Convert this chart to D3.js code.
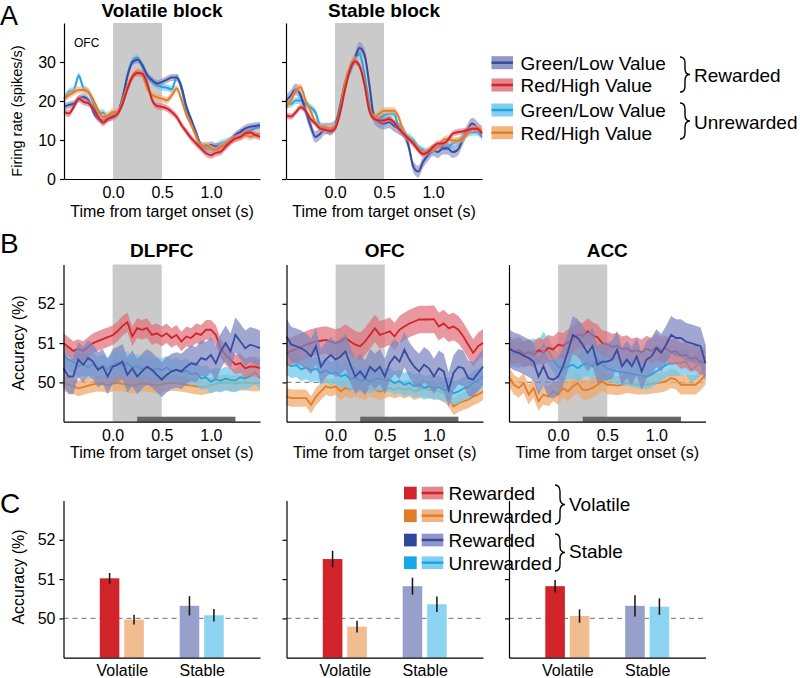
<!DOCTYPE html>
<html><head><meta charset="utf-8">
<script src="https://cdn.jsdelivr.net/npm/d3@7"></script>
<style>
body{margin:0;background:#fff;}
svg{display:block;}
</style></head><body>
<svg id="chart" width="800" height="678"></svg>
<script>
// ---------------- DATA ----------------
const times = [-0.5,-0.45,-0.4,-0.35,-0.3,-0.25,-0.2,-0.15,-0.1,-0.05,0,0.05,0.1,0.15,0.2,0.25,0.3,0.35,0.4,0.45,0.5,0.55,0.6,0.65,0.7,0.75,0.8,0.85,0.9,0.95,1.0,1.05,1.1,1.15,1.2,1.25,1.3,1.35,1.4,1.45,1.5];
const timeTicks = [0, 0.5, 1.0];

// Panel A: firing rate (spikes/s), OFC
const volGreenRew   = [18.5,19.0,19.3,20.6,21.0,20.2,17.2,15.5,15.1,15.5,16.4,17.2,21.0,26.6,30.0,30.6,29.2,26.6,25.3,24.5,24.9,25.5,26.0,26.0,23.6,18.5,15.1,11.7,8.7,8.3,8.7,8.3,8.3,8.7,10.0,11.3,12.1,13.0,13.4,13.6,13.8];
const volRedRew     = [17.2,16.8,18.5,20.6,19.8,19.4,18.1,15.9,14.4,15.5,15.9,16.8,19.4,23.2,26.2,27.2,27.0,24.5,20.2,18.7,18.5,18.1,17.2,15.9,13.8,12.1,10.4,9.1,7.8,6.6,6.1,6.7,7.0,8.3,9.5,10.4,10.8,11.7,11.9,11.3,10.8];
const volGreenUnrew = [20.5,22.3,22.8,26.5,23.2,22.3,19.4,16.8,17.0,15.5,16.4,17.2,21.0,27.0,30.4,31.1,28.7,26.2,24.9,24.0,23.6,23.4,23.0,26.0,22.8,17.6,14.7,11.7,8.3,7.8,7.4,8.3,9.1,9.5,10.0,10.8,11.7,12.1,12.5,13.0,13.4];
const volRedUnrew   = [20.6,21.5,22.3,22.8,22.8,22.3,20.2,17.6,15.9,16.4,17.2,17.2,20.2,24.0,26.6,27.5,26.6,23.2,21.5,21.0,20.6,20.2,21.5,23.2,20.2,16.4,13.8,10.8,8.3,8.7,7.8,7.4,8.3,9.1,10.0,10.4,10.8,11.3,10.8,11.3,11.7];
const stbGreenRew   = [20.1,21.4,23.0,21.4,17.5,13.7,10.8,11.6,12.9,12.9,13.7,18.4,24.3,27.7,30.7,33.6,32.0,24.3,15.8,14.6,14.2,14.6,13.7,12.9,12.0,8.6,3.1,1.9,4.4,6.1,7.4,6.9,7.8,7.8,6.9,7.4,9.9,12.5,14.2,13.3,12.0];
const stbRedRew     = [16.3,16.0,17.1,18.4,17.5,15.4,14.2,12.9,12.6,12.3,12.9,16.7,22.6,27.7,30.1,29.0,24.3,17.5,15.4,15.0,15.0,15.4,14.6,12.9,11.6,10.3,9.1,7.4,6.4,6.9,8.2,9.1,9.1,9.9,11.6,12.0,12.2,12.5,12.9,12.9,11.6];
const stbGreenUnrew = [19.2,19.2,20.1,20.1,19.2,18.4,17.1,13.7,13.3,12.0,13.3,17.5,23.5,28.6,31.1,32.0,26.9,19.2,16.3,15.8,16.3,16.7,16.7,13.3,11.6,10.8,9.9,8.2,7.4,6.9,7.4,8.2,8.2,8.2,9.1,9.5,10.8,11.6,12.0,12.0,10.8];
const stbRedUnrew   = [18.4,20.1,22.6,23.5,20.1,17.5,14.6,13.3,13.3,12.9,13.3,17.5,24.3,28.6,30.7,29.0,25.2,18.4,15.8,16.7,17.5,17.5,17.5,15.8,12.0,10.3,9.1,7.8,6.5,7.4,7.8,8.2,9.9,10.3,9.9,9.9,10.3,11.6,12.9,12.9,12.5];
// half-width of shaded band: [greenRew, redRew, greenUnrew, redUnrew]
const semVol = [0.9, 0.9, 0.9, 0.9];
const semStb = [1.5, 0.8, 0.9, 0.9];
const firingTicks = [0, 10, 20, 30];

// Panel B: decoding accuracy (%)
const dlpfcVolRew   = [51.0,50.9,50.8,50.85,50.8,50.9,51.0,51.05,51.1,51.15,51.2,51.3,51.44,51.53,51.17,51.38,51.34,51.38,51.21,51.25,51.17,51.25,51.13,51.21,51.04,51.17,51.13,51.25,51.21,51.34,51.34,51.21,50.87,50.7,50.58,50.45,50.49,50.36,50.4,50.4,50.36];
const dlpfcVolUnrew = [49.97,49.95,49.9,49.85,49.88,49.92,49.95,49.97,49.96,49.93,49.97,49.99,49.96,49.94,49.92,49.95,49.97,49.96,49.94,49.92,49.95,49.97,49.99,49.98,49.96,49.94,49.92,49.9,49.88,49.9,49.93,49.96,49.98,50.0,49.98,49.97,49.99,50.0,49.98,49.97,49.99];
const dlpfcStbRew   = [50.36,50.15,50.15,50.58,50.45,50.62,50.53,50.32,50.4,50.15,50.4,50.45,50.53,50.19,50.36,50.15,50.28,50.4,50.32,50.19,50.07,50.19,50.28,50.32,50.28,50.4,50.49,50.45,50.62,50.58,50.7,50.49,50.79,51.0,50.79,51.21,51.04,50.87,50.96,50.92,50.87];
const dlpfcStbUnrew = [50.7,50.58,50.52,50.41,50.47,50.38,50.46,50.35,50.42,50.33,50.45,50.5,50.44,50.49,50.38,50.42,50.33,50.39,50.3,50.36,50.31,50.38,50.29,50.34,50.26,50.3,50.21,50.24,50.1,50.13,50.02,50.08,50.04,50.1,50.06,50.05,50.13,50.1,50.16,50.26,50.11];
const ofcVolRew     = [50.75,50.8,50.85,50.9,50.96,51.0,51.04,51.06,51.08,51.04,51.0,51.04,51.13,51.04,50.96,50.92,51.04,51.21,51.38,51.21,51.25,51.3,51.17,51.34,51.42,51.5,51.55,51.6,51.6,51.6,51.61,51.42,51.5,51.38,51.42,51.34,51.17,50.96,50.75,50.92,51.0];
const ofcVolUnrew   = [49.64,49.6,49.6,49.6,49.6,49.43,49.64,49.77,49.9,49.86,49.9,49.77,49.86,49.81,49.86,49.81,49.77,49.86,49.81,49.77,49.81,49.86,49.81,49.86,49.81,49.86,49.77,49.81,49.86,49.81,49.81,49.77,49.73,49.6,49.39,49.47,49.52,49.56,49.64,49.69,49.77];
const ofcStbRew     = [51.17,50.96,50.92,50.87,50.79,50.66,50.92,50.4,50.58,50.7,50.58,50.66,50.79,50.45,50.15,50.28,50.11,50.4,50.28,50.4,50.15,50.49,50.66,50.53,50.83,50.58,50.4,50.28,50.45,50.36,50.15,50.36,50.28,49.81,50.24,50.4,50.36,50.11,50.07,50.24,50.4];
const ofcStbUnrew   = [50.49,50.41,50.44,50.33,50.38,50.3,50.35,50.24,50.31,50.22,50.26,50.15,50.2,50.08,50.12,50.04,50.09,50.02,50.08,50.1,50.05,50.07,49.98,50.03,49.94,49.99,49.9,49.95,49.86,49.9,49.85,49.88,49.8,49.83,49.72,49.77,49.84,49.88,49.99,50.05,50.15];
const accVolRew     = [50.85,50.78,50.83,50.72,50.77,50.7,50.82,50.76,50.88,50.84,50.96,50.93,51.02,51.1,51.22,51.18,51.3,51.2,51.15,51.0,50.97,50.9,50.94,50.84,50.87,50.78,50.82,50.76,50.86,50.8,50.9,50.83,50.86,50.77,50.79,50.68,50.7,50.6,50.63,50.52,50.49];
const accVolUnrew   = [50.15,49.94,49.86,49.98,49.69,49.86,49.52,49.69,49.64,49.77,49.69,49.86,49.77,49.9,49.98,49.81,49.81,49.86,49.94,50.03,49.94,49.94,49.92,49.94,49.98,49.97,49.94,49.94,49.94,49.97,49.98,50.0,50.03,50.11,50.07,49.94,49.94,49.94,49.94,50.05,50.19];
const accStbRew     = [50.87,50.79,50.75,50.68,50.62,50.53,50.15,50.41,50.11,50.07,50.15,50.41,50.79,51.21,51.13,50.96,50.75,50.92,50.45,50.53,50.53,50.58,50.83,50.41,50.58,50.41,50.66,50.28,50.58,50.66,50.87,50.75,50.96,51.21,51.13,51.13,51.04,51.0,50.96,50.92,50.49];
const accStbUnrew   = [50.75,50.72,50.7,50.72,50.75,50.79,50.75,50.96,50.79,50.58,50.4,50.36,50.4,50.45,50.36,50.45,50.49,50.4,50.58,50.45,50.36,50.32,50.28,50.26,50.24,50.22,50.19,50.17,50.15,50.2,50.28,50.36,50.45,50.49,50.49,50.5,50.53,50.32,50.4,50.49,50.66];
// band half-widths: [volRew, volUnrew, stbRew, stbUnrew]
const semDlpfc = [0.25, 0.2, 0.45, 0.3];
const semOfc   = [0.35, 0.22, 0.45, 0.3];
const semAcc   = [0.33, 0.25, 0.48, 0.33];
const accTicks = [50, 51, 52];
const sigWindow = [0.25, 1.25];

// Panel C: mean accuracy (%) [volRew, volUnrew, stbRew, stbUnrew]
const blockCats = ["Volatile", "Stable"];
const dlpfcBars = [51.02, 49.97, 50.32, 50.08];
const dlpfcErr  = [0.135, 0.125, 0.245, 0.16];
const ofcBars   = [51.51, 49.79, 50.82, 50.36];
const ofcErr    = [0.21, 0.15, 0.215, 0.195];
const accBars   = [50.82, 50.06, 50.32, 50.30];
const accErr    = [0.16, 0.17, 0.27, 0.21];

const regionNames = ["DLPFC", "OFC", "ACC"];

// ---------------- STYLE ----------------
const FONT = "'Liberation Sans', Arial, Helvetica, sans-serif";
const pal = {
  blue:   {line:"#3A4B9E", band:"#7C86C0", solid:"#2F479A", bar:"#979FCB"},
  red:    {line:"#D3242B", band:"#E0707A", solid:"#D1232A", bar:"#D1232A"},
  lblue:  {line:"#1EA7E1", band:"#6AC7EE", solid:"#16A8E4", bar:"#8DD4F3"},
  orange: {line:"#E07E2A", band:"#F0A86A", solid:"#E07B28", bar:"#F0BC90"}
};
const GRAY = "#cacaca";

const svg = d3.select("#chart").attr("font-family", FONT);

function yAxis(x0, y, ticks, labels, fs) {
  const ax = d3.axisLeft(y).tickValues(ticks).tickSize(4).tickSizeOuter(0).tickPadding(4)
    .tickFormat(labels ? d3.format("d") : "");
  const a = svg.append("g").attr("transform", `translate(${x0},0)`).call(ax);
  a.attr("font-size", fs).attr("font-family", FONT);
  a.selectAll("path,line").attr("stroke", "#000").attr("stroke-width", 1.2);
  a.selectAll("text").attr("fill", "#000");
}
function xAxisTime(x, y0, fs) {
  const ax = d3.axisBottom(x).tickValues(timeTicks).tickFormat(d3.format(".1f")).tickSize(0).tickSizeOuter(0).tickPadding(8);
  const a = svg.append("g").attr("transform", `translate(0,${y0})`).call(ax);
  a.attr("font-size", fs).attr("font-family", FONT);
  a.selectAll("path").attr("stroke", "#000").attr("stroke-width", 1.2);
  a.selectAll("text").attr("fill", "#000");
}
function trace(x, y, vals, sem, key, curve, lw, op) {
  const pts = times.map((t, i) => ({t, v: vals[i]}));
  svg.append("path").datum(pts)
    .attr("d", d3.area().x(d => x(d.t)).y0(d => y(d.v - sem)).y1(d => y(d.v + sem)).curve(curve))
    .attr("fill", pal[key].band).attr("fill-opacity", op);
  svg.append("path").datum(pts)
    .attr("d", d3.line().x(d => x(d.t)).y(d => y(d.v)).curve(curve))
    .attr("fill", "none").attr("stroke", pal[key].line).attr("stroke-width", lw);
}
function text(x, y, s, fs, opt = {}) {
  const t = svg.append("text").attr("x", x).attr("y", y).text(s)
    .attr("font-size", fs).attr("fill", "#000")
    .attr("text-anchor", opt.anchor || "start");
  if (opt.bold) t.attr("font-weight", "bold");
  if (opt.rot) t.attr("transform", `rotate(-90,${x},${y})`);
  return t;
}
function brace(x, y1, y2, w) {
  const ym = (y1 + y2) / 2, h = ym - y1, m = x + w / 2;
  const p = `M${x},${y1} Q${m},${y1} ${m},${y1 + h * 0.35} L${m},${ym - h * 0.35} Q${m},${ym} ${x + w},${ym} ` +
            `Q${m},${ym} ${m},${ym + h * 0.35} L${m},${y2 - h * 0.35} Q${m},${y2} ${x},${y2}`;
  svg.append("path").attr("d", p).attr("fill", "none").attr("stroke", "#000").attr("stroke-width", 1.4);
}

// ---------------- PANEL A ----------------
const yA = d3.scaleLinear().domain([0, 40]).range([179, 23]);
const panelsA = [
  {x0: 64, title: "Volatile block", data: [volGreenRew, volRedRew, volGreenUnrew, volRedUnrew], sem: semVol, labels: true},
  {x0: 286, title: "Stable block", data: [stbGreenRew, stbRedRew, stbGreenUnrew, stbRedUnrew], sem: semStb, labels: false}
];
const keysA = ["blue", "red", "lblue", "orange"];
const drawOrderA = [2, 0, 3, 1];
panelsA.forEach(p => {
  const x = d3.scaleLinear().domain([-0.5, 1.5]).range([p.x0, p.x0 + 196]);
  svg.append("rect").attr("x", x(0)).attr("y", yA(40)).attr("width", x(0.5) - x(0)).attr("height", yA(0) - yA(40)).attr("fill", GRAY);
  drawOrderA.forEach(i => trace(x, yA, p.data[i], p.sem[i], keysA[i], d3.curveMonotoneX, 2, 0.6));
  yAxis(p.x0, yA, firingTicks, p.labels, 16);
  xAxisTime(x, yA(0), 16);
  text(x(0.5), 16.5, p.title, 19, {anchor: "middle", bold: true});
  text(x(0.5), 216.5, "Time from target onset (s)", 16, {anchor: "middle"});
});
text(74, 47, "OFC", 12);
text(22, 111, "Firing rate (spikes/s)", 14.5, {anchor: "middle", rot: true});
text(0, 25, "A", 27);

// legend A
const legA = [
  {key: "blue", label: "Green/Low Value", y: 62.7},
  {key: "red", label: "Red/High Value", y: 85},
  {key: "lblue", label: "Green/Low Value", y: 110},
  {key: "orange", label: "Red/High Value", y: 132.7}
];
legA.forEach(d => {
  svg.append("rect").attr("x", 491.5).attr("y", d.y - 6.5).attr("width", 21.5).attr("height", 13)
    .attr("fill", pal[d.key].band).attr("fill-opacity", 0.85);
  svg.append("line").attr("x1", 491.5).attr("x2", 513).attr("y1", d.y).attr("y2", d.y)
    .attr("stroke", pal[d.key].line).attr("stroke-width", 2.5);
  text(520.5, d.y + 7, d.label, 19);
});
brace(680, 57, 92, 10);
brace(680, 103, 139, 10);
text(694, 82, "Rewarded", 19);
text(694, 129, "Unrewarded", 19);

// ---------------- PANEL B ----------------
const colX = [63.5, 286.5, 509];
const W = 196.5;
const yB = d3.scaleLinear().domain([49, 53]).range([421.7, 264.5]);
const panelsB = [
  {data: [dlpfcVolRew, dlpfcVolUnrew, dlpfcStbRew, dlpfcStbUnrew], sem: semDlpfc},
  {data: [ofcVolRew, ofcVolUnrew, ofcStbRew, ofcStbUnrew], sem: semOfc},
  {data: [accVolRew, accVolUnrew, accStbRew, accStbUnrew], sem: semAcc}
];
const keysB = ["red", "orange", "blue", "lblue"];
const drawOrderB = [1, 3, 0, 2];
panelsB.forEach((p, k) => {
  const x0 = colX[k];
  const x = d3.scaleLinear().domain([-0.5, 1.5]).range([x0, x0 + W]);
  svg.append("rect").attr("x", x(0)).attr("y", yB(53)).attr("width", x(0.5) - x(0)).attr("height", yB(49) - yB(53)).attr("fill", GRAY);
  svg.append("line").attr("x1", x0).attr("x2", x0 + W).attr("y1", yB(50)).attr("y2", yB(50))
    .attr("stroke", "#8c8c8c").attr("stroke-width", 1.3).attr("stroke-dasharray", "5,4");
  drawOrderB.forEach(i => trace(x, yB, p.data[i], p.sem[i], keysB[i], d3.curveLinear, 1.8, 0.72));
  svg.append("rect").attr("x", x(sigWindow[0])).attr("y", yB(49) - 5).attr("width", x(sigWindow[1]) - x(sigWindow[0])).attr("height", 5).attr("fill", "#676767");
  yAxis(x0, yB, accTicks, k === 0, 16);
  xAxisTime(x, yB(49), 16);
  text(x0 + W / 2, 257, regionNames[k], 19, {anchor: "middle", bold: true});
  text(x0 + W / 2, 457.5, "Time from target onset (s)", 16, {anchor: "middle"});
});
text(23.5, 343, "Accuracy (%)", 16, {anchor: "middle", rot: true});
text(0, 253, "B", 28);

// ---------------- PANEL C ----------------
const yC = d3.scaleLinear().domain([49, 53]).range([657.7, 500.5]);
const barSets = [[dlpfcBars, dlpfcErr], [ofcBars, ofcErr], [accBars, accErr]];
const barKeys = ["red", "orange", "blue", "lblue"];
barSets.forEach((bs, k) => {
  const x0 = colX[k];
  const xc = d3.scalePoint().domain(blockCats).range([x0, x0 + W]).padding(0.73);
  const xi = d3.scaleBand().domain(["Rewarded", "Unrewarded"]).range([-22, 22]).paddingInner(0.2);
  svg.append("line").attr("x1", x0).attr("x2", x0 + W).attr("y1", yC(50)).attr("y2", yC(50))
    .attr("stroke", "#8c8c8c").attr("stroke-width", 1.3).attr("stroke-dasharray", "5,4");
  const rows = [];
  blockCats.forEach((c, ci) => ["Rewarded", "Unrewarded"].forEach((r, ri) => {
    const idx = ci * 2 + ri;
    rows.push({cx: xc(c) + xi(r), v: bs[0][idx], e: bs[1][idx], key: barKeys[idx]});
  }));
  svg.selectAll(null).data(rows).enter().append("rect")
    .attr("x", d => d.cx).attr("width", xi.bandwidth())
    .attr("y", d => yC(d.v)).attr("height", d => yC(49) - yC(d.v))
    .attr("fill", d => pal[d.key].bar);
  svg.selectAll(null).data(rows).enter().append("line")
    .attr("x1", d => d.cx + xi.bandwidth() / 2).attr("x2", d => d.cx + xi.bandwidth() / 2)
    .attr("y1", d => yC(d.v - d.e)).attr("y2", d => yC(d.v + d.e))
    .attr("stroke", "#111").attr("stroke-width", 1.5);
  yAxis(x0, yC, accTicks, k === 0, 16);
  const ax = d3.axisBottom(xc).tickSize(0).tickSizeOuter(0).tickPadding(7);
  const a = svg.append("g").attr("transform", `translate(0,${yC(49)})`).call(ax);
  a.attr("font-size", 16).attr("font-family", FONT);
  a.selectAll("path").attr("stroke", "#000").attr("stroke-width", 1.2);
  a.selectAll("text").attr("fill", "#000");
});
text(23.5, 577, "Accuracy (%)", 16, {anchor: "middle", rot: true});
text(0, 513, "C", 28);

// legend C
const legC = [
  {key: "red", label: "Rewarded", y: 493},
  {key: "orange", label: "Unrewarded", y: 515.7},
  {key: "blue", label: "Rewarded", y: 540},
  {key: "lblue", label: "Unrewarded", y: 562.7}
];
legC.forEach(d => {
  svg.append("rect").attr("x", 404).attr("y", d.y - 6.3).attr("width", 12.7).attr("height", 12.7).attr("fill", pal[d.key].solid);
  svg.append("rect").attr("x", 421.7).attr("y", d.y - 6.3).attr("width", 21.6).attr("height", 12.7)
    .attr("fill", pal[d.key].band).attr("fill-opacity", 0.85);
  svg.append("line").attr("x1", 421.7).attr("x2", 443.3).attr("y1", d.y).attr("y2", d.y)
    .attr("stroke", pal[d.key].line).attr("stroke-width", 2.5);
  text(448.5, d.y + 7, d.label, 19);
});
brace(555, 485, 524, 10);
brace(555, 534, 571, 10);
text(569, 511, "Volatile", 19);
text(569, 558, "Stable", 19);
</script></body></html>
